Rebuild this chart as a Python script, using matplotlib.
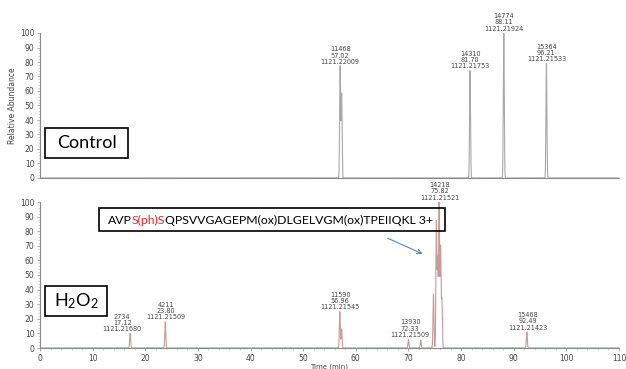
import numpy as np
import matplotlib
matplotlib.use("Agg")
import matplotlib.pyplot as plt
from matplotlib.patches import Rectangle, FancyArrowPatch

# ---- data ----
# control run: peak retention times (min) and relative heights
ctrl_rt = [57.02, 57.30, 81.70, 88.11, 96.21]
ctrl_h = [77, 58, 74, 100, 79]
ctrl_lab_x = [57.02, 81.70, 88.11, 96.21]
ctrl_lab_h = [77, 74, 100, 79]
ctrl_labels = ["11468\n57.02\n1121.22009", "14310\n81.70\n1121.21753",
               "14774\n88.11\n1121.21924", "15364\n96.21\n1121.21533"]

# H2O2 run
h2o2_rt = [17.12, 23.80, 56.96, 57.30, 70.0, 72.33,
           74.75, 75.30, 75.55, 75.82, 76.10, 76.35, 92.49]
h2o2_h = [10, 18, 25, 13, 6, 5.5,
          37, 86, 60, 100, 69, 33, 11]
h2o2_lab_x = [15.6, 23.9, 57.0, 70.3, 76.0, 92.7]
h2o2_lab_h = [10, 18, 25, 6, 100, 11]
h2o2_labels = ["2734\n17.12\n1121.21680", "4211\n23.80\n1121.21509",
               "11590\n56.96\n1121.21545", "13930\n72.33\n1121.21509",
               "14218\n75.82\n1121.21521", "15468\n92.49\n1121.21423"]

yticks = list(range(0, 101, 10))
xticks = list(range(0, 111, 10))
xtick_labels = [str(v) for v in xticks]

W, H = 626, 369
fig = plt.figure(figsize=(W / 100, H / 100), dpi=100)


def fx(px):
    return px / W


def fy(py):
    return 1 - py / H


def trace(t, rts, hs, sig=0.09):
    y = np.zeros_like(t)
    for r, h in zip(rts, hs):
        y = y + h * np.exp(-0.5 * ((t - r) / sig) ** 2)
    return y


t = np.linspace(0, 110, 22001)
axc = '#8a8a8a'
txtc = '#444444'


def style(ax, show_x):
    ax.set_xlim(0, 110)
    ax.set_ylim(0, 100)
    for s in ['top', 'right']:
        ax.spines[s].set_visible(False)
    for s in ['left', 'bottom']:
        ax.spines[s].set_color(axc)
        ax.spines[s].set_linewidth(0.8)
    ax.set_yticks(yticks)
    ax.set_yticks(range(0, 101, 2), minor=True)
    ax.tick_params(axis='y', which='major', length=2.5, width=0.5, color=axc,
                   labelsize=5.5, labelcolor=txtc, pad=1.5)
    ax.tick_params(axis='y', which='minor', length=1.5, width=0.4, color='#b0b0b0')
    if show_x:
        ax.set_xticks(xticks)
        ax.set_xticklabels(xtick_labels)
        ax.set_xticks(range(0, 111, 2), minor=True)
        ax.tick_params(axis='x', which='major', length=2.5, width=0.5, color=axc,
                       labelsize=5.5, labelcolor=txtc, pad=1.5)
        ax.tick_params(axis='x', which='minor', length=1.5, width=0.4, color='#b0b0b0')
    else:
        ax.set_xticks([])
        ax.set_xticks([], minor=True)


# ---- top: control ----
ax1 = fig.add_axes([fx(40), fy(178), fx(579), fy(33) - fy(178)])
ax1.plot(t, trace(t, ctrl_rt, ctrl_h), color='#a8a8a8', lw=0.8)
style(ax1, False)
ax1.set_ylabel('Relative Abundance', fontsize=5.5, color=txtc, labelpad=2)
for x, h, s in zip(ctrl_lab_x, ctrl_lab_h, ctrl_labels):
    ax1.annotate(s, xy=(x, h), xytext=(0, 1), textcoords='offset points',
                 ha='center', va='bottom', fontsize=4.7, color=txtc,
                 linespacing=1.05, annotation_clip=False)

# ---- bottom: H2O2 ----
ax2 = fig.add_axes([fx(40), fy(348), fx(579), fy(202) - fy(348)])
ax2.plot(t, trace(t, h2o2_rt, h2o2_h), color='#c99a9a', lw=0.8)
style(ax2, True)
ax2.set_xlabel('Time (min)', fontsize=5, color=txtc, labelpad=0.5)
for x, h, s in zip(h2o2_lab_x, h2o2_lab_h, h2o2_labels):
    ax2.annotate(s, xy=(x, h), xytext=(0, 1), textcoords='offset points',
                 ha='center', va='bottom', fontsize=4.7, color=txtc,
                 linespacing=1.05, annotation_clip=False)

# ---- boxed labels ----
plt.rcParams['mathtext.fontset'] = 'custom'
plt.rcParams['mathtext.rm'] = 'Lato'
plt.rcParams['mathtext.it'] = 'Lato:italic'


def box(x0, y0, x1, y1):
    fig.add_artist(Rectangle((fx(x0), fy(y1)), fx(x1 - x0), fy(y0) - fy(y1),
                             transform=fig.transFigure, fill=False,
                             ec='black', lw=1.2))


box(45, 128, 128, 158)
fig.text(fx(86.5), fy(143), 'Control', family='Lato', fontsize=13,
         ha='center', va='center')
box(45, 286, 107, 316)
fig.text(fx(76), fy(301), r'$\mathrm{H_2O_2}$', fontsize=13,
         ha='center', va='center')

box(99, 208, 445, 231)
renderer = fig.canvas.get_renderer()
xpos = 108
for part, col in [('AVP', 'black'), ('S(ph)S', '#e32b22'),
                  ('QPSVVGAGEPM(ox)DLGELVGM(ox)TPEIIQKL 3+', 'black')]:
    tx = fig.text(fx(xpos), fy(224), part, family='Lato', fontsize=8.8,
                  color=col, ha='left', va='baseline')
    xpos += tx.get_window_extent(renderer=renderer).width

fig.add_artist(FancyArrowPatch((fx(385), fy(237)), (fx(425), fy(255)),
                               transform=fig.transFigure, arrowstyle='->',
                               mutation_scale=8, color='#4f86d0', lw=0.8))

fig.savefig('out.png', dpi=100)
